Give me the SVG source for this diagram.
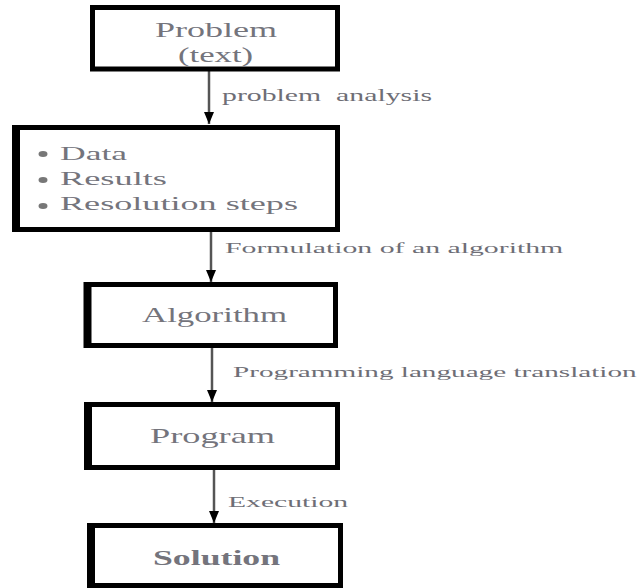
<svg xmlns="http://www.w3.org/2000/svg" width="640" height="588" viewBox="0 0 640 588">
  <defs>
    <marker id="arrowhead" viewBox="0 0 12 10" refX="12" refY="5" markerWidth="12" markerHeight="10" markerUnits="userSpaceOnUse" orient="auto">
      <path d="M0,0 L12,5 L0,10 Z" fill="#000"/>
    </marker>
    <style>
      .box { fill: #fff; stroke: #000; stroke-width: 5; }
      .edge { stroke: #000; stroke-width: 8; }
      text { font-family: "Liberation Serif", "Times New Roman", serif; white-space: pre; }
      .node-text { fill: #74747c; }
      .label { font-size: 15px; fill: #6e6e76; }
      .conn { stroke: #555; stroke-width: 2.5; fill: none; marker-end: url(#arrowhead); }
      .bullet { fill: #777; }
    </style>
  </defs>
  <rect width="640" height="588" fill="#fff"/>

  <!-- connectors and their labels; text is widened with a horizontal scale -->
  <g id="connectors">
    <line class="conn" x1="209" y1="71" x2="209" y2="124"/>
    <line class="conn" x1="211" y1="232" x2="211" y2="282"/>
    <line class="conn" x1="212" y1="348" x2="212" y2="402"/>
    <line class="conn" x1="214" y1="470" x2="214" y2="523"/>
    <text class="label" transform="translate(222,101) scale(1.75,1)" style="font-size:17px" textLength="120" lengthAdjust="spacingAndGlyphs">problem  analysis</text>
    <text class="label" transform="translate(225,253) scale(1.99,1)" textLength="170" lengthAdjust="spacingAndGlyphs">Formulation of an algorithm</text>
    <text class="label" transform="translate(233,377) scale(1.95,1)" textLength="207" lengthAdjust="spacingAndGlyphs">Programming language translation</text>
    <text class="label" transform="translate(228,507) scale(1.97,1)" textLength="61" lengthAdjust="spacingAndGlyphs">Execution</text>
  </g>

  <!-- problem statement -->
  <g id="problem">
    <rect class="box" x="92.5" y="7.5" width="245" height="61.5"/>
    <text class="node-text" transform="translate(155,37) scale(1.72,1)" font-size="21" textLength="71" lengthAdjust="spacingAndGlyphs">Problem</text>
    <text class="node-text" transform="translate(178,62) scale(1.65,1)" font-size="21" textLength="45.5" lengthAdjust="spacingAndGlyphs">(text)</text>
  </g>

  <!-- analysis result -->
  <g id="analysis">
    <rect class="box" x="15" y="127.5" width="322.5" height="102"/>
    <line class="edge" x1="16" y1="125" x2="16" y2="232"/>
    <ellipse class="bullet" cx="43" cy="154" rx="4.5" ry="3"/>
    <ellipse class="bullet" cx="43" cy="180" rx="4.5" ry="3"/>
    <ellipse class="bullet" cx="43" cy="206" rx="4.5" ry="3"/>
    <text class="node-text" transform="translate(60,160) scale(2,1)" font-size="18" textLength="33.5" lengthAdjust="spacingAndGlyphs">Data</text>
    <text class="node-text" transform="translate(60,185) scale(2,1)" font-size="18" textLength="53.5" lengthAdjust="spacingAndGlyphs">Results</text>
    <text class="node-text" transform="translate(60,210) scale(2,1)" font-size="18" textLength="119" lengthAdjust="spacingAndGlyphs">Resolution steps</text>
  </g>

  <!-- algorithm -->
  <g id="algorithm">
    <rect class="box" x="87" y="284.5" width="248.5" height="61"/>
    <line class="edge" x1="87.5" y1="282" x2="87.5" y2="348"/>
    <text class="node-text" transform="translate(142,322) scale(1.58,1)" font-size="22" textLength="91.8" lengthAdjust="spacingAndGlyphs">Algorithm</text>
  </g>

  <!-- program -->
  <g id="program">
    <rect class="box" x="88" y="404.5" width="249.5" height="63"/>
    <line class="edge" x1="88" y1="402" x2="88" y2="470"/>
    <text class="node-text" transform="translate(150,443) scale(1.65,1)" font-size="22" textLength="75.8" lengthAdjust="spacingAndGlyphs">Program</text>
  </g>

  <!-- solution -->
  <g id="solution">
    <rect class="box" x="91" y="525.5" width="249.5" height="60"/>
    <line class="edge" x1="91" y1="523" x2="91" y2="588"/>
    <text class="node-text" transform="translate(153,565) scale(1.79,1)" font-size="20" font-weight="bold" textLength="71" lengthAdjust="spacingAndGlyphs">Solution</text>
  </g>
</svg>
